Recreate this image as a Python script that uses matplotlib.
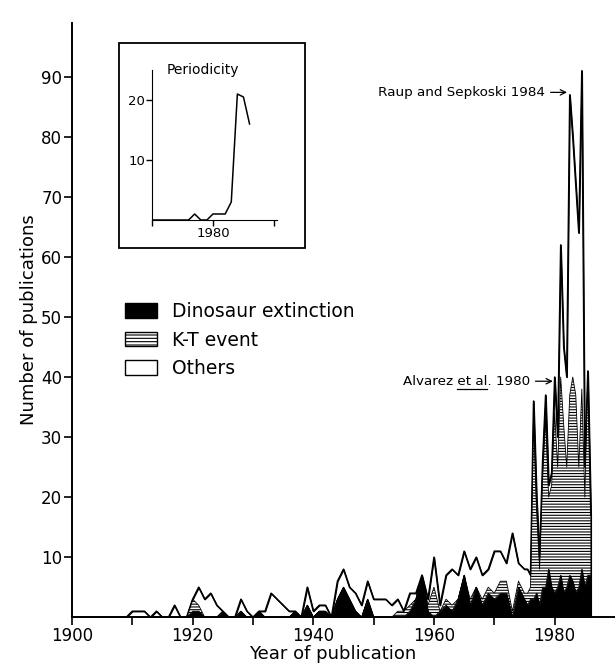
import matplotlib.pyplot as plt
from matplotlib.patches import Patch
from matplotlib.lines import Line2D
import numpy as np

plt.rcParams['font.family'] = ['DejaVu Sans']
plt.rcParams['hatch.linewidth'] = 0.8

# yearly counts up to 1974, half-year steps from 1975 on
years = list(range(1900, 1975)) + [1975 + 0.5 * i for i in range(23)]

dino = [0] * 20 + [
    1, 1, 0, 0, 0, 1, 0, 0, 1, 0,      # 1920s
    0, 1, 0, 0, 0, 0, 0, 1, 0, 2,      # 1930s
    0, 1, 1, 0, 3, 5, 3, 1, 0, 3,      # 1940s
    0, 0, 0, 0, 0, 0, 1, 3, 7, 1,      # 1950s
    0, 1, 2, 1, 3, 7, 2, 5, 2, 4,      # 1960s
    3, 4, 4, 0, 5,                     # 1970-74
    3, 2, 3, 3, 4, 2, 5, 5, 8, 5, 4, 5,
    7, 4, 5, 7, 6, 4, 5, 8, 5, 7, 7]

kt = [0] * 20 + [
    2, 1, 0, 0, 0, 0, 0, 0, 0, 0,
    0, 0, 0, 0, 0, 0, 0, 0, 0, 0,
    0, 0, 0, 0, 0, 0, 0, 0, 0, 0,
    0, 0, 0, 0, 1, 1, 1, 0, 0, 1,
    5, 0, 1, 1, 0, 0, 1, 0, 1, 1,
    1, 2, 2, 1, 1,
    1, 2, 2, 30, 14, 6, 18, 28, 12, 17, 30, 20,
    33, 28, 20, 30, 34, 33, 20, 30, 15, 34, 10]

others = [0] * 10 + [1, 1, 1, 0, 1, 0, 0, 2, 0, 0] + [
    0, 3, 3, 4, 2, 0, 0, 0, 2, 1,
    0, 0, 1, 4, 3, 2, 1, 0, 0, 3,
    1, 1, 1, 0, 3, 3, 2, 3, 2, 3,
    3, 3, 3, 2, 2, 0, 2, 1, 0, 1,
    5, 1, 4, 6, 4, 4, 5, 5, 4, 3,
    7, 5, 3, 13, 3,
    4, 4, 2, 3, 2, 2, 3, 4, 2, 2, 6, 5,
    22, 13, 15, 50, 40, 35, 39, 53, 5, 0, 0]

# inset: papers on periodicity
p_years = [1970, 1971, 1972, 1973, 1974, 1975, 1976, 1977, 1978, 1979,
           1980, 1981, 1982, 1983, 1984, 1985, 1986]
p_counts = [0, 0, 0, 0, 0, 0, 0, 1, 0, 0, 1, 1, 1, 3, 21, 20.5, 16]

x = np.array(years, dtype=float)
d = np.array(dino, dtype=float)
k = d + np.array(kt, dtype=float)
t = k + np.array(others, dtype=float)

fig = plt.figure(figsize=(6.15, 6.68), dpi=100)
ax = fig.add_axes([0.117, 0.076, 0.883, 0.89])

ax.fill_between(x, 0, t, facecolor='white', edgecolor='black', linewidth=1.0)
ax.fill_between(x, d, k, facecolor='white', edgecolor='black', hatch='------',
                linewidth=0.6)
ax.fill_between(x, 0, d, facecolor='black', edgecolor='black', linewidth=0.6)
ax.plot(x, t, color='black', lw=1.1)

ax.set_xlim(1900, 1990)
ax.set_ylim(0, 99)
for s in ['top', 'right']:
    ax.spines[s].set_visible(False)
ax.spines['left'].set_linewidth(1.4)
ax.spines['bottom'].set_linewidth(1.4)
ax.set_xticks(range(1900, 1990, 20))
ax.set_xticks(range(1910, 1990, 20), minor=True)
ax.set_yticks(range(10, 100, 10))
ax.tick_params(axis='both', which='both', direction='out', length=6, width=1.2,
               labelsize=12, pad=1)
ax.set_xlabel('Year of publication', fontsize=13, labelpad=2)
ax.xaxis.set_label_coords(0.48, -0.046)
ax.set_ylabel('Number of publications', fontsize=13, labelpad=2)

# legend
handles = [Patch(facecolor='black', edgecolor='black', label='Dinosaur extinction'),
           Patch(facecolor='white', edgecolor='black', hatch='-----', label='K-T event'),
           Patch(facecolor='white', edgecolor='black', label='Others')]
ax.legend(handles=handles, loc='upper left', bbox_to_anchor=(0.097, 0.53),
          frameon=False, fontsize=13.5, handlelength=1.7, handleheight=0.85,
          labelspacing=0.5, handletextpad=0.8, borderpad=0, borderaxespad=0)

# annotations
ax.annotate('Raup and Sepkoski 1984', xy=(1982.05, 87.4), xytext=(1978.4, 87.4),
            ha='right', va='center', fontsize=9.7,
            arrowprops=dict(arrowstyle='->', lw=0.9, color='black',
                            shrinkA=2, shrinkB=0))
al = ax.annotate('Alvarez et al. 1980', xy=(1979.7, 39.3), xytext=(1975.9, 39.3),
                 ha='right', va='center', fontsize=9.7,
                 arrowprops=dict(arrowstyle='->', lw=0.9, color='black',
                                 shrinkA=2, shrinkB=0))

# inset box and inset plot
fig.add_artist(plt.Rectangle((119 / 615, 1 - 248 / 668), 186 / 615, 205 / 668,
                             transform=fig.transFigure, fill=False, lw=1.3,
                             color='black'))
ins = fig.add_axes([152 / 615, 1 - 220 / 668, 125 / 615, 150 / 668])
ins.plot(p_years, p_counts, color='black', lw=1.1)
ins.set_xlim(1970, 1990.5)
ins.set_ylim(0, 25)
for s in ['top', 'right']:
    ins.spines[s].set_visible(False)
ins.set_xticks([1970, 1980, 1990])
ins.set_xticklabels(['', '1980', ''])
ins.set_yticks([10, 20])
ins.tick_params(axis='both', direction='out', length=4, width=1.0,
                labelsize=9.5, pad=1)
ins.text(0.12, 1.0, 'Periodicity', transform=ins.transAxes, fontsize=10,
         va='center', ha='left')

# underline "et al" in the Alvarez label
fig.canvas.draw()
r = fig.canvas.get_renderer()
bb = al.get_window_extent(r)
prop = al.get_fontproperties()
w_pre, _, _ = r.get_text_width_height_descent('Alvarez et al', prop, ismath=False)
w_et, _, _ = r.get_text_width_height_descent('et al', prop, ismath=False)
x1 = bb.x0 + w_pre
x0 = x1 - w_et
yl = bb.y0 - 1
fig.add_artist(Line2D([x0 / fig.bbox.width, x1 / fig.bbox.width],
                      [yl / fig.bbox.height, yl / fig.bbox.height],
                      transform=fig.transFigure, color='black', lw=0.9))

fig.savefig('out.png', dpi=100)
